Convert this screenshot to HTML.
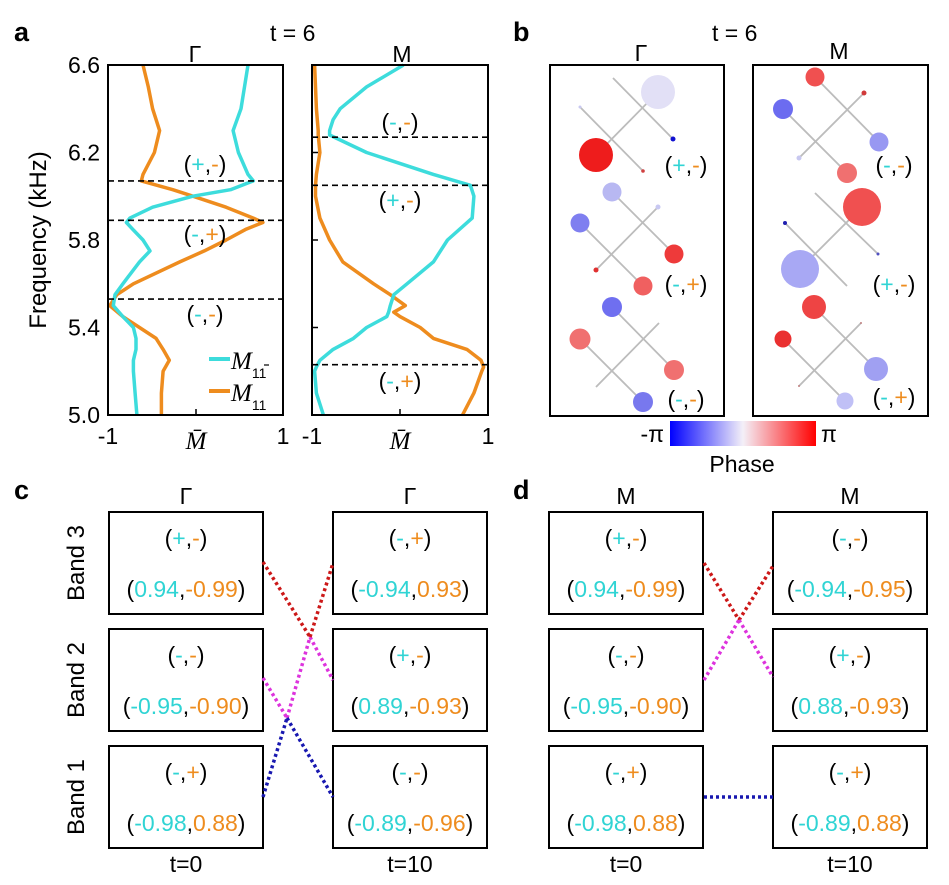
<!DOCTYPE html>
<html><head><meta charset="utf-8"><style>
html,body{margin:0;padding:0;background:#fff;}
svg{display:block;font-family:"Liberation Sans",sans-serif;}
.c{fill:#30d4d4}.o{fill:#ee8c1e}
</style></head><body>
<svg id="fig" width="949" height="885" viewBox="0 0 949 885" xmlns="http://www.w3.org/2000/svg">
<g>
<text x="14" y="41" font-size="27" font-weight="bold">a</text>
<text x="270" y="41" font-size="23">t = 6</text>
<text x="195" y="62" font-size="23" text-anchor="middle">Γ</text>
<text x="402" y="62" font-size="23" text-anchor="middle">M</text>
<text transform="translate(46,240) rotate(-90)" font-size="24" text-anchor="middle">Frequency (kHz)</text>
<g id="ticks" font-size="23" text-anchor="end"></g>
<g id="curves"></g>
<rect x="108" y="65" width="175" height="350" fill="none" stroke="#000" stroke-width="2"/>
<rect x="312" y="65" width="176" height="350" fill="none" stroke="#000" stroke-width="2"/>
<g font-size="23" text-anchor="middle">
<text x="108" y="444">-1</text>
<text x="196" y="449" font-size="25" font-family="Liberation Serif,serif" font-style="italic">M̄</text>
<text x="283" y="444">1</text>
<text x="312" y="444">-1</text>
<text x="400" y="449" font-size="25" font-family="Liberation Serif,serif" font-style="italic">M̄</text>
<text x="488" y="444">1</text>
</g>
<g font-size="23" text-anchor="middle">
<text x="205" y="172">(<tspan class="c">+</tspan>,<tspan class="o">-</tspan>)</text>
<text x="205" y="242">(<tspan class="c">-</tspan>,<tspan class="o">+</tspan>)</text>
<text x="205" y="322">(<tspan class="c">-</tspan>,<tspan class="o">-</tspan>)</text>
<text x="400" y="130">(<tspan class="c">-</tspan>,<tspan class="o">-</tspan>)</text>
<text x="400" y="208">(<tspan class="c">+</tspan>,<tspan class="o">-</tspan>)</text>
<text x="400" y="389">(<tspan class="c">-</tspan>,<tspan class="o">+</tspan>)</text>
</g>
<g>
<line x1="209" y1="359" x2="230" y2="359" stroke="#3ddcdc" stroke-width="4"/>
<text x="231" y="369" font-size="25" font-family="Liberation Serif,serif" font-style="italic">M<tspan font-size="14" font-style="normal" font-family="Liberation Sans,sans-serif" dy="9">11</tspan></text>
<line x1="264" y1="365" x2="269" y2="365" stroke="#000" stroke-width="1.2"/>
<line x1="209" y1="391" x2="230" y2="391" stroke="#ee8c1e" stroke-width="4"/>
<text x="231" y="401" font-size="25" font-family="Liberation Serif,serif" font-style="italic">M<tspan font-size="14" font-style="normal" font-family="Liberation Sans,sans-serif" dy="9">11</tspan></text>
</g>
</g>
<g>
<defs><linearGradient id="cb" x1="0" x2="1"><stop offset="0" stop-color="#0000ff"/><stop offset="0.5" stop-color="#f4f0f8"/><stop offset="1" stop-color="#ff0000"/></linearGradient></defs>
<text x="513" y="41" font-size="27" font-weight="bold">b</text>
<text x="712" y="41" font-size="23">t = 6</text>
<text x="641" y="61" font-size="23" text-anchor="middle">Γ</text>
<text x="839" y="59" font-size="23" text-anchor="middle">M</text>
<g id="lattice"></g>
<rect x="550" y="65" width="174" height="351" fill="none" stroke="#000" stroke-width="2"/>
<rect x="753" y="65" width="175" height="351" fill="none" stroke="#000" stroke-width="2"/>
<rect x="670" y="421" width="146" height="25" fill="url(#cb)"/>
<text x="664" y="442" font-size="23" text-anchor="end">-π</text>
<text x="821" y="442" font-size="23">π</text>
<text x="742" y="472" font-size="23" text-anchor="middle">Phase</text>
<g font-size="23" text-anchor="middle">
<text x="686" y="173">(<tspan class="c">+</tspan>,<tspan class="o">-</tspan>)</text>
<text x="686" y="292">(<tspan class="c">-</tspan>,<tspan class="o">+</tspan>)</text>
<text x="686" y="407">(<tspan class="c">-</tspan>,<tspan class="o">-</tspan>)</text>
<text x="894" y="173">(<tspan class="c">-</tspan>,<tspan class="o">-</tspan>)</text>
<text x="894" y="292">(<tspan class="c">+</tspan>,<tspan class="o">-</tspan>)</text>
<text x="894" y="405">(<tspan class="c">-</tspan>,<tspan class="o">+</tspan>)</text>
</g>
</g>
<g id="cd"></g>
<text x="14" y="499" font-size="27" font-weight="bold">c</text>
<text x="513" y="499" font-size="27" font-weight="bold">d</text>
</svg>
<script>
const NS="http://www.w3.org/2000/svg";
function mk(tag,attrs,parent){const e=document.createElementNS(NS,tag);for(const k in attrs)e.setAttribute(k,attrs[k]);parent.appendChild(e);return e;}

const freqTicks=[6.6,6.2,5.8,5.4,5.0];
const gFreq=[6.6,6.5,6.4,6.3,6.2,6.1,6.07,6.03,6.0,5.95,5.9,5.88,5.85,5.8,5.75,5.7,5.6,5.55,5.5,5.45,5.4,5.35,5.3,5.25,5.2,5.1,5.0];
const gCyan=[0.6,0.56,0.52,0.43,0.49,0.6,0.66,0.4,-0.03,-0.49,-0.75,-0.79,-0.72,-0.6,-0.52,-0.64,-0.83,-0.92,-0.94,-0.83,-0.71,-0.68,-0.68,-0.71,-0.71,-0.69,-0.67];
const gOrange=[-0.6,-0.54,-0.49,-0.41,-0.47,-0.6,-0.62,-0.26,-0.03,0.35,0.66,0.77,0.58,0.35,0.1,-0.18,-0.71,-0.9,-0.98,-0.83,-0.64,-0.45,-0.37,-0.3,-0.37,-0.39,-0.39];
const mFreq=[6.6,6.5,6.4,6.35,6.3,6.28,6.2,6.1,6.05,6.0,5.9,5.8,5.7,5.6,5.55,5.5,5.47,5.45,5.4,5.35,5.3,5.25,5.22,5.2,5.1,5.0];
const mCyan=[0.04,-0.38,-0.68,-0.76,-0.8,-0.8,-0.38,0.38,0.8,0.84,0.82,0.54,0.38,0.08,-0.07,-0.11,-0.13,-0.15,-0.38,-0.53,-0.76,-0.91,-0.95,-0.97,-0.95,-0.87];
const mOrange=[-0.97,-0.96,-0.95,-0.94,-0.93,-0.93,-0.91,-0.95,-0.96,-0.96,-0.91,-0.8,-0.65,-0.3,-0.11,0.06,-0.07,0.0,0.23,0.38,0.76,0.92,0.95,0.93,0.84,0.71];
const gDashed=[6.07,5.89,5.53];
const mDashed=[6.27,6.05,5.23];

const yF=f=>65+(6.6-f)*218.75;
const xG=m=>108+(m+1)*87.5;
const xM=m=>312+(m+1)*88;

const tk=document.getElementById('ticks');
freqTicks.forEach(f=>{
  const t=mk('text',{x:100,y:yF(f)+8},tk);t.textContent=f.toFixed(1);
  
  
  const l1=mk('line',{x1:312,x2:318,y1:yF(f),y2:yF(f),stroke:'#000','stroke-width':1.5},tk);
  
  
});
[196,400].forEach(x=>{const l=mk('line',{x1:x,x2:x,y1:409,y2:415,stroke:'#000','stroke-width':1.5},tk);
  
  });

const cv=document.getElementById('curves');
function curve(fs,ms,xf,col,name){
  const d=fs.map((f,i)=>(i?'L':'M')+xf(ms[i]).toFixed(1)+','+yF(f).toFixed(1)).join('');
  const p=mk('path',{d:d,fill:'none',stroke:col,'stroke-width':3.5,'stroke-linejoin':'round'},cv);
  
  
}
curve(gFreq,gOrange,xG,'#ee8c1e','gamma-m11-curve');
curve(gFreq,gCyan,xG,'#3ddcdc','gamma-m11bar-curve');
curve(mFreq,mOrange,xM,'#ee8c1e','m-m11-curve');
curve(mFreq,mCyan,xM,'#3ddcdc','m-m11bar-curve');
function dash(f,x1,x2){const l=mk('line',{x1:x1,x2:x2,y1:yF(f),y2:yF(f),stroke:'#000','stroke-width':1.6,'stroke-dasharray':'6,4'},cv);
  
  }
gDashed.forEach(f=>dash(f,108,283));
mDashed.forEach(f=>dash(f,312,488));

const lat=document.getElementById('lattice');
const gLines=[[613,78,673,139],[580,107,643,171],[658,92,596,155],[612,192,674,254],[580,223,643,286],[658,207,596,270],[612,307,674,370],[580,339,643,402],[659,323,596,387]];
const mLines=[[815,77,879,142],[783,109,847,173],[864,93,799,158],[815,193,878,254],[785,223,847,286],[862,207,800,269],[814,307,876,369],[783,339,845,401],[861,323,799,386]];
gLines.concat(mLines).forEach(s=>{const l=mk('line',{x1:s[0],y1:s[1],x2:s[2],y2:s[3],stroke:'#bcbcbc','stroke-width':1.8},lat);
  
  });
const sites=[[658,92,17,'#e2e0f6'],[673,139,2.5,'#1010d0'],[596,155,17,'#ee1c1c'],[643,171,1.8,'#d04040'],[580,107,1.5,'#c8c8f0'],
[612,192,9.5,'#b8b8f2'],[658,207,2.5,'#c8c8f2'],[580,223,9.5,'#7f7ff0'],[674,254,9.5,'#ee3a3a'],[596,270,2.5,'#e03030'],[643,286,9.5,'#f06060'],
[612,307,10,'#6f6ff0'],[580,339,10.5,'#f07070'],[674,370,10,'#f07070'],[643,402,10,'#7878ee'],
[815,77,9.5,'#f05050'],[864,93,2.5,'#d03a3a'],[783,109,10,'#6c6cf0'],[879,142,9.5,'#9898f2'],[799,158,2.5,'#c8c8f0'],[847,173,10,'#f07070'],
[862,207,19,'#f05050'],[785,223,2,'#2020b0'],[878,254,1.5,'#5050c0'],[800,269,19,'#a8a8f4'],
[814,307,12,'#ee4444'],[783,339,8.5,'#ea3030'],[876,369,12,'#a0a0f2'],[845,401,8.5,'#c0c0f6'],[861,323,1,'#c08080'],[799,386,1,'#c08080']];
sites.forEach(s=>{const c=mk('circle',{cx:s[0],cy:s[1],r:s[2],fill:s[3]},lat);
  
  });

const cd=document.getElementById('cd');
const rows=[512,629,746];
const signs={c:[['+-','-+'],['--','+-'],['-+','--']],d:[['+-','--'],['--','+-'],['-+','-+']]};
const vals={c:[[['0.94','-0.99'],['-0.94','0.93']],[['-0.95','-0.90'],['0.89','-0.93']],[['-0.98','0.88'],['-0.89','-0.96']]],
            d:[[['0.94','-0.99'],['-0.94','-0.95']],[['-0.95','-0.90'],['0.88','-0.93']],[['-0.98','0.88'],['-0.89','0.88']]]};
const cols={c:[109,333],d:[549,773]};
const heads={c:'Γ',d:'M'};
['c','d'].forEach(p=>{
  cols[p].forEach((x,ci)=>{
    const h=mk('text',{x:x+77,y:504,'font-size':23,'text-anchor':'middle'},cd);h.textContent=heads[p];
    
    
    const tt=mk('text',{x:x+77,y:872,'font-size':23,'text-anchor':'middle'},cd);tt.textContent=ci?'t=10':'t=0';
    
    
    rows.forEach((y,ri)=>{
      const r=mk('rect',{x:x,y:y,width:154,height:102,fill:'none',stroke:'#000','stroke-width':2},cd);
      
      
      const s=signs[p][ri][ci];const v=vals[p][ri][ci];
      const t1=mk('text',{x:x+77,y:y+34,'font-size':23,'text-anchor':'middle'},cd);
      t1.innerHTML='(<tspan class="c">'+s[0]+'</tspan>,<tspan class="o">'+s[1]+'</tspan>)';
      
      
      const t2=mk('text',{x:x+77,y:y+85,'font-size':23,'text-anchor':'middle'},cd);
      t2.innerHTML='(<tspan class="c">'+v[0]+'</tspan>,<tspan class="o">'+v[1]+'</tspan>)';
      
      
    });
  });
});
['Band 3','Band 2','Band 1'].forEach((b,i)=>{
  const t=mk('text',{transform:'translate(84,'+(rows[i]+51)+') rotate(-90)','font-size':24,'text-anchor':'middle'},cd);t.textContent=b;
  
  
});
const links=[[263,562,310,637,'#cc1818'],[310,637,333,680,'#dd33dd'],[263,678,287,718,'#dd33dd'],[287,718,310,637,'#dd33dd'],[310,637,333,563,'#cc1818'],[263,797,287,718,'#1818b0'],[287,718,333,797,'#1818b0'],
[704,563,739,620,'#cc1818'],[739,620,773,566,'#cc1818'],[704,680,739,620,'#dd33dd'],[739,620,773,677,'#dd33dd'],[704,797,773,797,'#1818b0']];
links.forEach(s=>{const l=mk('line',{x1:s[0],y1:s[1],x2:s[2],y2:s[3],stroke:s[4],'stroke-width':3.5,'stroke-dasharray':'3,3'},cd);
  
  });
</script>
</body></html>
